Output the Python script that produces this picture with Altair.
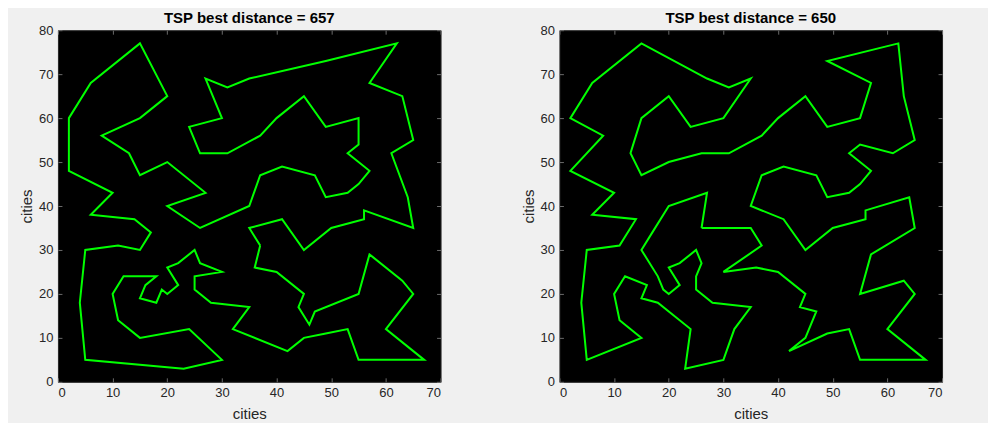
import altair as alt
import pandas as pd

# Tour (cities visited in order, loop closes back to start)
tour1_x = [37, 36, 40, 45, 44, 46, 47, 55, 57, 63, 65, 60, 67, 55, 53, 49, 45, 42, 32, 35,
           28, 25, 25, 30, 26, 25, 22, 20, 22, 20, 19, 18, 15, 16, 18, 12, 10, 11, 15, 24,
           30, 23, 5, 4, 5, 11, 15, 17, 14, 6, 10, 2, 2, 6, 15, 20, 15, 8, 13, 15,
           20, 27, 20, 26, 35, 37, 41, 47, 49, 53, 55, 57, 53, 55, 55, 49, 45, 40, 37, 31,
           26, 24, 30, 27, 31, 35, 49, 62, 57, 63, 65, 61, 64, 65, 56, 56, 50, 45, 41, 35]
tour1_y = [31, 26, 25, 20, 17, 13, 16, 20, 29, 23, 20, 12, 5, 5, 12, 11, 10, 7, 12, 17,
           18, 21, 24, 25, 27, 30, 27, 26, 22, 20, 21, 18, 19, 22, 24, 24, 20, 14, 10, 12,
           5, 3, 5, 18, 30, 31, 30, 34, 37, 38, 43, 48, 60, 68, 77, 65, 60, 56, 52, 47,
           50, 43, 40, 35, 40, 47, 49, 47, 42, 43, 45, 48, 52, 54, 60, 58, 65, 60, 56, 52,
           52, 58, 60, 69, 67, 69, 73, 77, 68, 65, 55, 52, 42, 35, 39, 37, 35, 30, 37, 35]

# Tour
tour2_x = [26, 35, 37, 30, 36, 40, 45, 44, 47, 46, 45, 42, 49, 53, 55, 67, 60, 65, 63, 55,
           57, 65, 64, 56, 56, 50, 45, 41, 35, 37, 41, 47, 49, 53, 55, 57, 53, 55, 61, 65,
           63, 62, 49, 57, 55, 49, 45, 40, 37, 31, 26, 20, 15, 13, 15, 20, 24, 30, 35, 31,
           27, 15, 6, 2, 8, 2, 10, 6, 14, 11, 5, 4, 5, 15, 11, 10, 12, 16, 15, 18,
           24, 23, 30, 32, 35, 28, 25, 25, 26, 25, 22, 20, 22, 20, 19, 18, 15, 17, 20, 27]
tour2_y = [35, 35, 31, 25, 26, 25, 20, 17, 16, 13, 10, 7, 11, 12, 5, 5, 12, 20, 23, 20,
           29, 35, 42, 39, 37, 35, 30, 37, 40, 47, 49, 47, 42, 43, 45, 48, 52, 54, 52, 55,
           65, 77, 73, 68, 60, 58, 65, 60, 56, 52, 52, 50, 47, 52, 60, 65, 58, 60, 69, 67,
           69, 77, 68, 60, 56, 48, 43, 38, 37, 31, 30, 18, 5, 10, 14, 20, 24, 22, 19, 18,
           12, 3, 5, 12, 17, 18, 21, 24, 27, 30, 27, 26, 22, 20, 21, 24, 30, 34, 40, 43]

best_distance = [657, 650]
x_ticks = [0, 10, 20, 30, 40, 50, 60, 70]
y_ticks = [0, 10, 20, 30, 40, 50, 60, 70, 80]

W, H = 383, 352
FONT = "Liberation Sans"
TXT = "#262626"


def panel(xs, ys, dist):
    xs = list(xs) + [xs[0]]
    ys = list(ys) + [ys[0]]
    df = pd.DataFrame({"x": xs, "y": ys, "k": list(range(len(xs)))})
    xsc = alt.Scale(domain=[0, 70], nice=False, zero=False)
    ysc = alt.Scale(domain=[0, 80], nice=False, zero=False)
    base = alt.Chart(df)
    common = dict(ticks=False, tickSize=0, domain=False, grid=False, title="cities",
                  labelFontSize=13, labelColor=TXT, titleFontSize=15,
                  titleFontWeight="normal", titleColor=TXT, labelFont=FONT, titleFont=FONT)
    main = base.mark_line(color="#00FF00", strokeWidth=2, strokeJoin="miter").encode(
        x=alt.X("x:Q", scale=xsc,
                axis=alt.Axis(values=x_ticks, labelPadding=5, titlePadding=7, **common)),
        y=alt.Y("y:Q", scale=ysc,
                axis=alt.Axis(values=y_ticks, labelPadding=5, titlePadding=4, **common)),
        order="k:Q",
    )
    tick_style = dict(labels=False, domain=False, grid=False, ticks=True, tickSize=4,
                      tickColor="#6a6a6a", tickWidth=1, title=None)
    t_a = base.mark_line(opacity=0).encode(
        x=alt.X("x:Q", scale=xsc, axis=alt.Axis(orient="top", offset=-H, values=x_ticks, **tick_style)),
        y=alt.Y("y:Q", scale=ysc, axis=alt.Axis(orient="right", offset=-W, values=y_ticks, **tick_style)),
        order="k:Q",
    )
    t_b = base.mark_line(opacity=0).encode(
        x=alt.X("x:Q", scale=xsc, axis=alt.Axis(orient="bottom", offset=-H, values=x_ticks, **tick_style)),
        y=alt.Y("y:Q", scale=ysc, axis=alt.Axis(orient="left", offset=-W, values=y_ticks, **tick_style)),
        order="k:Q",
    )
    return (
        alt.layer(main, t_a, t_b)
        .resolve_axis(x="independent", y="independent")
        .properties(
            width=W, height=H,
            title=alt.TitleParams(f"TSP best distance = {dist}", fontSize=15, fontWeight="bold",
                                  font=FONT, color="#000000", offset=-2, anchor="middle"),
        )
    )


chart = (
    alt.hconcat(panel(tour1_x, tour1_y, best_distance[0]),
                panel(tour2_x, tour2_y, best_distance[1]),
                spacing=119, bounds="flush")
    .properties(padding={"left": 11, "top": 2, "right": 45, "bottom": 0}, background="#F0F0F0")
    .configure_view(fill="#000000", stroke="#262626", strokeWidth=1)
)

chart.save("out.html", embed_options={"renderer": "svg", "actions": False})
